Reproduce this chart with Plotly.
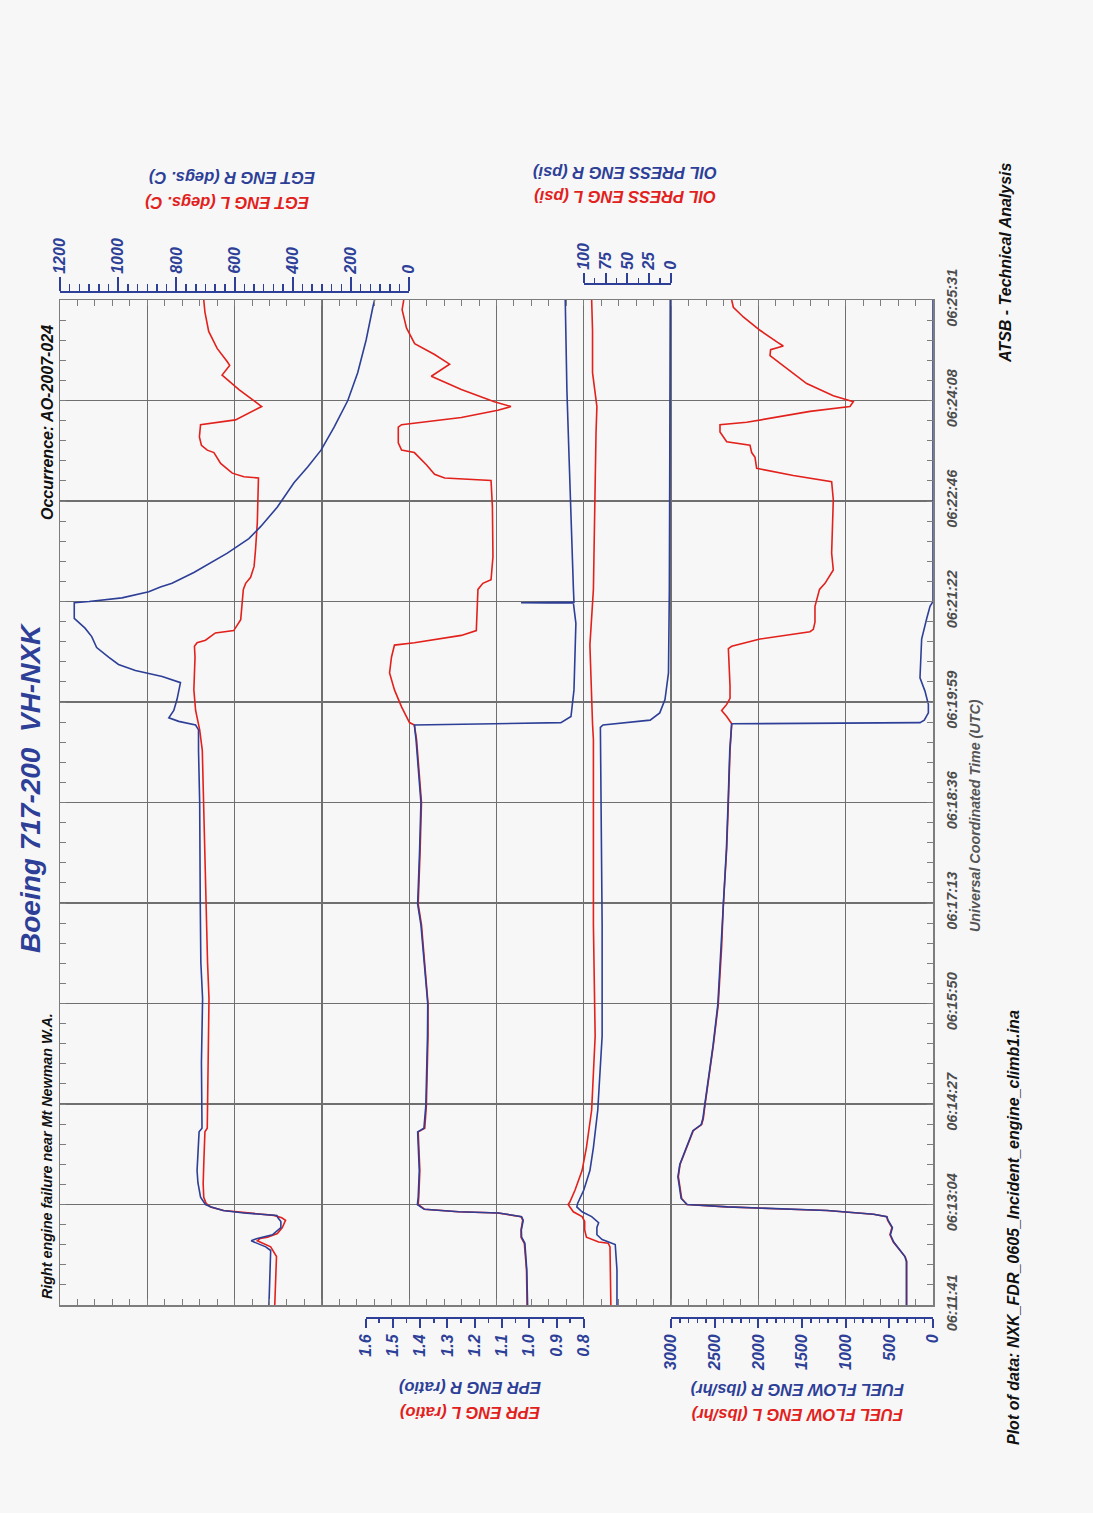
import plotly.graph_objects as go

W, H = 1093, 1513


def px(x):
    return x / W


def py(y):
    return 1 - y / H


RED = "#e2211c"
BLUE = "#2d3f97"
GRID = "#6f6f6f"
FRAME = "#7d7d7d"
BG = "#f7f7f7"
FONT = "Liberation Sans"

# ---- time axis (seconds after 06:11:41) ----
TIME_TICKS = [0, 83, 166, 249, 332, 415, 498, 581, 664, 747, 830]
TIME_LABELS = ["06:11:41", "06:13:04", "06:14:27", "06:15:50", "06:17:13", "06:18:36",
               "06:19:59", "06:21:22", "06:22:46", "06:24:08", "06:25:31"]

# ---- EGT (degs C) ----
t_egt_l = [0, 20, 40, 48, 53, 55, 56, 59, 64, 70, 72, 74, 76, 78, 81, 84, 89, 100, 116, 143, 146,
           180, 214, 253, 283, 331, 375, 415, 458, 475, 486, 491, 508, 535, 544, 547, 549, 555, 557,
           566, 591, 596, 601, 610, 624, 646, 683, 684, 687, 695, 704, 706, 710, 717, 727, 731, 742,
           756, 768, 776, 779, 790, 804, 820, 830]
egt_l = [462, 460, 456, 476, 522, 512, 487, 453, 436, 425, 438, 465, 556, 637, 683, 698, 706, 708, 706, 702, 694,
         692, 690, 688, 693, 698, 702, 705, 711, 720, 728, 734, 740, 736, 738, 729, 700, 666, 603,
         579, 570, 562, 545, 533, 528, 522, 518, 568, 608, 648, 671, 694, 714, 721, 717, 597, 507,
         585, 643, 617, 625, 660, 689, 702, 706]

t_egt_r = [0, 20, 45, 48, 53, 55, 58, 64, 69, 72, 74, 76, 78, 81, 83, 89, 101, 111, 143, 146, 200,
           253, 283, 331, 415, 458, 475, 479, 482, 485, 491, 500, 512, 514, 519, 524, 529, 535, 543,
           552, 559, 567, 580, 581, 584, 589, 593, 596, 605, 621, 633, 643, 659, 679, 692, 706, 725,
           747, 770, 797, 824, 830]
egt_r = [482, 480, 476, 493, 543, 522, 470, 441, 441, 451, 455, 568, 640, 680, 700, 717, 726, 729, 722, 712, 714,
         710, 716, 718, 720, 724, 724, 734, 792, 826, 809, 798, 786, 786, 849, 941, 999, 1033, 1074,
         1091, 1114, 1151, 1151, 1100, 987, 895, 855, 815, 740, 625, 551, 510, 453, 396, 349, 303, 258,
         211, 177, 148, 125, 119]

# ---- EPR (ratio) ----
t_epr_l = [0, 29, 51, 56, 62, 70, 73, 76, 77, 79, 83, 89, 111, 143, 146, 165, 222, 249, 314, 331,
           375, 415, 467, 479, 481, 494, 508, 522, 535, 545, 547, 553, 557, 576, 591, 596, 599, 618,
           659, 681, 683, 686, 694, 704, 706, 712, 725, 727, 733, 739, 742, 746, 756, 767, 777, 785,
           794, 807, 822, 830]
epr_l = [1.008, 1.010, 1.018, 1.030, 1.030, 1.024, 1.030, 1.115, 1.261, 1.383, 1.407, 1.405, 1.401, 1.407,
         1.383, 1.377, 1.371, 1.371, 1.395, 1.407, 1.400, 1.395, 1.413, 1.421, 1.439, 1.468, 1.494, 1.512,
         1.505, 1.494, 1.421, 1.249, 1.194, 1.190, 1.188, 1.170, 1.140, 1.133, 1.135, 1.140, 1.310, 1.347,
         1.377, 1.421, 1.468, 1.480, 1.480, 1.468, 1.249, 1.115, 1.067, 1.128, 1.249, 1.359, 1.292, 1.347,
         1.420, 1.450, 1.466, 1.460]

t_epr_r = [0, 29, 51, 56, 62, 70, 73, 76, 77, 79, 83, 89, 111, 143, 146, 165, 222, 249, 314, 331,
           375, 415, 467, 479, 480, 481, 486, 508, 563, 579.5, 580, 580.5, 591, 646, 700, 756, 797, 830]
epr_r = [1.006, 1.009, 1.016, 1.028, 1.029, 1.022, 1.028, 1.112, 1.258, 1.385, 1.410, 1.407, 1.403, 1.409,
         1.386, 1.379, 1.373, 1.372, 1.397, 1.409, 1.402, 1.397, 1.415, 1.421, 1.128, 0.884, 0.847, 0.836,
         0.829, 0.838, 1.030, 0.836, 0.838, 0.845, 0.854, 0.862, 0.866, 0.868]

# ---- Oil pressure (psi) ----
t_oil_l = [0, 48, 51, 52, 56, 62, 69, 73, 77, 83, 85, 95, 111, 130, 161, 222, 314, 415, 467, 480,
           545, 591, 640, 681, 720, 742, 770, 805, 830]
oil_l = [69, 70, 72, 83, 97, 99, 99, 102, 112, 118, 116, 110, 102, 97, 91, 87, 89, 89, 89, 90,
         93, 89, 88, 87, 86, 85, 90, 90, 91]

t_oil_r = [0, 29, 50, 54, 58, 64, 68, 73, 77, 81, 84, 95, 111, 130, 161, 222, 314, 406, 467, 477,
           479, 481, 483, 489, 500, 522, 591, 700, 830]
oil_r = [62, 62, 64, 79, 85, 85, 83, 91, 102, 108, 107, 100, 93, 89, 84, 79, 79, 80, 81, 81,
         78, 47, 24, 13, 7, 3, 2, 1.5, 1]

# ---- Fuel flow (lbs/hr) ----
t_ff_l = [0, 36, 40, 52, 58, 64, 70, 73, 75, 78, 81, 83, 88, 106, 116, 133, 144, 149, 154, 165,
          214, 248, 296, 330, 377, 415, 458, 480, 486, 491, 496, 501, 511, 542, 544, 550, 556, 558,
          564, 577, 583, 591, 596, 602, 607, 621, 648, 665, 680, 685, 691, 700, 704, 710, 713, 719,
          721, 727, 729, 738, 742, 746, 751, 761, 778, 784, 789, 792, 795, 805, 816, 824, 830]
ff_l = [301, 301, 320, 455, 493, 470, 520, 531, 684, 1218, 2363, 2821, 2879, 2917, 2898, 2803, 2746, 2650,
        2631, 2612, 2517, 2460, 2421, 2402, 2363, 2344, 2325, 2306, 2363, 2421, 2363, 2325, 2325, 2344,
        2306, 1982, 1409, 1371, 1352, 1352, 1333, 1300, 1237, 1180, 1142, 1161, 1150, 1142, 1161, 1600,
        2020, 2039, 2077, 2096, 2363, 2421, 2440, 2440, 2134, 1409, 951, 913, 1142, 1447, 1753, 1867,
        1860, 1715, 1780, 1982, 2173, 2287, 2306]

t_ff_r = [0, 36, 40, 52, 58, 64, 70, 73, 75, 78, 81, 83, 88, 106, 116, 133, 144, 149, 154, 165,
          214, 248, 296, 330, 377, 415, 458, 480, 481, 483, 489, 496, 507, 518, 550, 567, 577, 581, 830]
ff_r = [305, 305, 322, 450, 488, 465, 515, 528, 680, 1210, 2350, 2815, 2885, 2922, 2900, 2808, 2750, 2655,
        2636, 2615, 2520, 2465, 2425, 2405, 2366, 2347, 2328, 2306, 149, 100, 53, 53, 92, 149, 130, 72,
        34, 0, 0]

fig = go.Figure()


def line(x, y, axis, color):
    fig.add_trace(go.Scatter(x=x, y=y, xaxis=axis, yaxis="y", mode="lines",
                             line=dict(color=color, width=1.6), hoverinfo="skip",
                             showlegend=False))


# fuel flow lives on the main x axis (1000 lbs/hr per grid cell); the others overlay it
line(ff_l, t_ff_l, "x", RED)
line(ff_r, t_ff_r, "x", BLUE)
line(egt_l, t_egt_l, "x2", RED)
line(egt_r, t_egt_r, "x2", BLUE)
line(epr_l, t_epr_l, "x3", RED)
line(epr_r, t_epr_r, "x3", BLUE)
line(oil_l, t_oil_l, "x4", RED)
line(oil_r, t_oil_r, "x4", BLUE)

X0, X1 = 60, 933          # plot frame, page px
Y0, Y1 = 300, 1305
CELL = (X1 - X0) / 10.0
DOM = [px(X0), px(X1)]


def cellx(c):
    return X0 + c * CELL


tickfont = dict(family=FONT, size=16, color=BLUE, weight="bold", style="italic")


def overlay_axis(rng):
    return dict(overlaying="x", anchor="y", range=rng, visible=True,
                showline=False, showticklabels=False, ticks="", showgrid=False,
                zeroline=False, automargin=False, fixedrange=True)


layout = dict(
    width=W, height=H, margin=dict(l=0, r=0, t=0, b=0, pad=0, autoexpand=False),
    paper_bgcolor=BG, plot_bgcolor=BG, showlegend=False,
    xaxis=dict(domain=DOM, anchor="y", range=[10000, 0], dtick=1000, tick0=0, showgrid=True,
               gridcolor=GRID, gridwidth=1.4, showline=True, linecolor=FRAME, linewidth=1.5,
               mirror="allticks", ticks="inside", ticklen=6, tickcolor=FRAME,
               showticklabels=False, zeroline=False, automargin=False, fixedrange=True,
               minor=dict(dtick=200, tick0=0, ticks="inside", ticklen=6, tickcolor=FRAME,
                          showgrid=False)),
    yaxis=dict(domain=[py(Y1), py(Y0)], anchor="x", range=[0, 830], tickvals=TIME_TICKS,
               ticktext=TIME_LABELS, side="right", tickangle=-90, showgrid=True, gridcolor=GRID,
               gridwidth=1.4, showline=True, linecolor=FRAME, linewidth=1.5, mirror="allticks",
               ticks="inside", ticklen=6, tickcolor=FRAME, zeroline=False, ticklabelstandoff=5,
               automargin=False, fixedrange=True,
               tickfont=dict(family=FONT, size=14.5, color="#4d4d4d", weight="bold", style="italic"),
               minor=dict(dtick=16.6, tick0=0, ticks="inside", ticklen=6, tickcolor=FRAME,
                          showgrid=False)),
    # overlay data axes (EGT 300/cell, EPR 0.32/cell, oil 100/cell)
    xaxis2=overlay_axis([1200, -1800]),
    xaxis3=overlay_axis([2.72, -0.48]),
    xaxis4=overlay_axis([700, -300]),
)


def scale_axis(n, c0, c1, rng, dtick, minor, ypos, side, ticklen, fmt=None):
    ax = dict(domain=[px(cellx(c0)), px(cellx(c1))], range=rng, anchor="y%d" % n, side=side,
              showline=True, linecolor=BLUE, linewidth=2, ticks="outside", ticklen=ticklen,
              tickwidth=2, tickcolor=BLUE, dtick=dtick, tick0=0, tickangle=-90, tickfont=tickfont,
              showgrid=False, zeroline=False, automargin=False, fixedrange=True,
              minor=dict(dtick=minor, tick0=0, ticks="outside", ticklen=max(4, ticklen // 2),
                         tickwidth=1.5, tickcolor=BLUE, showgrid=False))
    if fmt:
        ax["tickformat"] = fmt
    if side == "top":
        yd = [py(ypos) - 0.002, py(ypos)]
    else:
        yd = [py(ypos), py(ypos) + 0.002]
    layout["xaxis%d" % n] = ax
    layout["yaxis%d" % n] = dict(domain=yd, anchor="x%d" % n, range=[0, 1], showline=False,
                                 showticklabels=False, ticks="", showgrid=False, zeroline=False,
                                 automargin=False, fixedrange=True)
    # an empty trace so that the scale's axes exist in the figure
    fig.add_trace(go.Scatter(x=[None], y=[None], xaxis="x%d" % n, yaxis="y%d" % n,
                             mode="lines", hoverinfo="skip", showlegend=False))


scale_axis(6, 0, 4, [1200, 0], 200, 200 / 6, 293, "top", 14)
scale_axis(7, 3.5, 6, [1.6, 0.8], 0.1, 0.05, 1317, "bottom", 9, ".1f")
scale_axis(8, 6, 7, [100, 0], 25, 12.5, 285, "top", 10)
scale_axis(9, 7, 10, [3000, 0], 500, 100, 1317, "bottom", 9)

fig.update_layout(**layout)


def note(text, x, y, size, color="#111111", angle=-90):
    fig.add_annotation(text=text, x=px(x), y=py(y), xref="paper", yref="paper",
                       showarrow=False, textangle=angle, xanchor="center", yanchor="middle",
                       font=dict(family=FONT, size=size, color=color, weight="bold",
                                 style="italic"))


note("Boeing 717-200  VH-NXK", 30, 788, 28, BLUE)
note("Right engine failure near Mt Newman W.A.", 47, 1156, 14.3)
note("Occurrence: AO-2007-024", 47, 423, 16)
note("Universal Coordinated Time (UTC)", 975, 816, 14.3, "#555555")
note("ATSB - Technical Analysis", 1006, 263, 16)
note("Plot of data: NXK_FDR_0605_Incident_engine_climb1.ina", 1013, 1228, 16)
note("EGT ENG R (degs. C)", 232, 178, 16.5, BLUE, 180)
note("EGT ENG L (degs. C)", 227, 203, 16.5, RED, 180)
note("OIL PRESS ENG R (psi)", 625, 173, 16.5, BLUE, 180)
note("OIL PRESS ENG L (psi)", 625, 197, 16.5, RED, 180)
note("EPR ENG R (ratio)", 470, 1388, 16.5, BLUE, 180)
note("EPR ENG L (ratio)", 470, 1413, 16.5, RED, 180)
note("FUEL FLOW ENG R (lbs/hr)", 797, 1390, 16.5, BLUE, 180)
note("FUEL FLOW ENG L (lbs/hr)", 797, 1415, 16.5, RED, 180)

fig.write_html("out.html", config={"displayModeBar": False, "staticPlot": True},
               post_script="document.body.style.margin='0';"
                           "document.body.style.background='%s';"
                           "document.body.style.overflow='hidden';" % BG)
